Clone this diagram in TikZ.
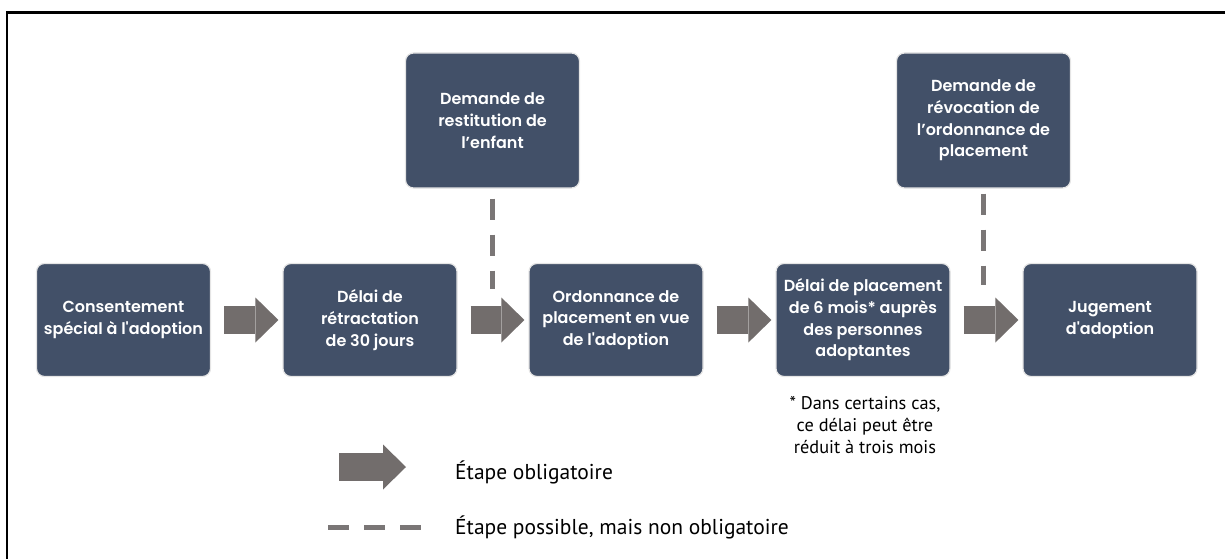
\documentclass[tikz,border=0pt]{standalone}
\usepackage{fontspec}
\setmainfont{Poppins}[BoldFont={Poppins SemiBold}]
\newfontfamily\legendfont{PT Sans}
\usetikzlibrary{arrows.meta, positioning, calc}
\definecolor{boxcolor}{RGB}{66,80,104}
\definecolor{flowcolor}{RGB}{114,109,108}
\definecolor{optcolor}{RGB}{122,118,118}

\begin{document}
\begin{tikzpicture}[x=1pt, y=-1pt,
    etape/.style={draw=black!10, line width=1.2pt, fill=boxcolor, rounded corners=8pt,
        text=white, font=\fontsize{16}{21.7}\selectfont\bfseries, align=center,
        minimum width=174pt, minimum height=113pt, inner sep=4pt},
    demande/.style={etape, minimum height=135pt},
    flow/.style={draw=flowcolor, line width=28pt, line cap=butt,
        -{Triangle[length=23pt, width=45pt, line width=0pt]}},
    maybe/.style={draw=optcolor, line width=5pt, dash pattern=on 21pt off 15pt},
    legend/.style={font=\legendfont\fontsize{21.5}{24}\selectfont, anchor=west, inner sep=0pt},
    note/.style={font=\legendfont\fontsize{18.3}{22}\selectfont, align=center, inner sep=0pt}]
    \useasboundingbox (0,0) rectangle (1225,559);

    % Cadre
    \draw[line width=2.5pt] (1225,12.5) -- (7,12.5) -- (7,559);

    % Etapes obligatoires
    \node[etape] (c1) at (123.5,320) {Consentement\\spécial à l\textquotesingle adoption};
    \node[etape] (c2) at (370,320) {Délai de\\rétractation\\de 30 jours};
    \node[etape] (c3) at (616,320) {Ordonnance de\\placement en vue\\de l\textquotesingle adoption};
    \node[etape] (c4) at (863,320) {Délai de placement\\de 6 mois* auprès\\des personnes\\adoptantes};
    \node[etape] (c5) at (1110,320) {Jugement\\d\textquotesingle adoption};

    % Demandes possibles
    \node[demande] (dA) at (492.5,120.5) {Demande de\\restitution de\\l’enfant};
    \node[demande] (dB) at (983.5,120.5) {Demande de\\révocation de\\l’ordonnance de\\placement};

    % Fleches
    \draw[flow, shorten <=13pt, shorten >=4pt] (c1) -- (c2);
    \draw[flow, shorten <=13pt, shorten >=4pt] (c2) -- (c3);
    \draw[flow, shorten <=13pt, shorten >=4pt] (c3) -- (c4);
    \draw[flow, shorten <=13pt, shorten >=4pt] (c4) -- (c5);

    % Pointilles
    \draw[maybe, shorten <=10pt, shorten >=31pt] (dA.south) -- (dA.south |- c3.west);
    \draw[maybe, shorten <=5pt, shorten >=35pt] (dB.south) -- (dB.south |- c5.west);

    % Note
    \node[note] (fn) at (865,425) {* Dans certains cas,\\ce délai peut être\\réduit à trois mois};

    % Legende
    \coordinate (lgA1) at (339,467);
    \coordinate (lgA2) at (406,467);
    \coordinate (lgB1) at (328,527);
    \coordinate (lgB2) at (421,527);
    \draw[flow] (lgA1) -- (lgA2);
    \draw[maybe] (lgB1) -- (lgB2);
    \node[legend] (lgtA) at (455,472) {Étape obligatoire};
    \node[legend] (lgtB) at (455,527) {Étape possible, mais non obligatoire};
\end{tikzpicture}
\end{document}
